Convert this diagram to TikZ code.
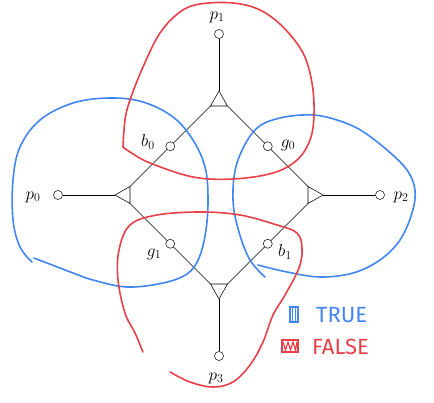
\documentclass[tikz,border=0pt]{standalone}
\usepackage{fontspec}
\newfontfamily\handfont{Fira Sans}
\definecolor{truecol}{RGB}{66,133,244}
\definecolor{falsecol}{RGB}{232,64,72}

\begin{document}
\begin{tikzpicture}[x=1pt, y=-1pt,
    port/.style={circle, draw, fill=white, inner sep=0pt, minimum size=9pt, line width=0.5pt},
    lbl/.style={font=\fontsize{18}{21}\selectfont, inner sep=0pt},
    wire/.style={line width=0.55pt},
    loopline/.style={line width=1.6pt, line cap=round, line join=round},
    legend/.style={font=\handfont\fontsize{22}{26}\selectfont, anchor=west, inner sep=0pt}]
    \useasboundingbox (0,0) rectangle (434,403);

    \coordinate (Ta) at (219,91);
    \coordinate (Tl) at (210.5,106);
    \coordinate (Tr) at (227.5,106);
    \coordinate (La) at (115,195);
    \coordinate (Lu) at (130,186.5);
    \coordinate (Ld) at (130,203.5);
    \coordinate (Ra) at (323,195);
    \coordinate (Ru) at (308,186.5);
    \coordinate (Rd) at (308,203.5);
    \coordinate (Ba) at (219,299);
    \coordinate (Bl) at (210.5,284);
    \coordinate (Br) at (227.5,284);

    \node[port] (p1) at (219,34) {};
    \node[port] (p0) at (58,195) {};
    \node[port] (p2) at (380,195) {};
    \node[port] (p3) at (219,356) {};
    \node[port] (b0) at (170.25,146.25) {};
    \node[port] (g0) at (267.75,146.25) {};
    \node[port] (g1) at (170.25,243.75) {};
    \node[port] (b1) at (267.75,243.75) {};

    \draw[wire] (Ta) -- (Tl) -- (Tr) -- cycle;
    \draw[wire] (La) -- (Lu) -- (Ld) -- cycle;
    \draw[wire] (Ra) -- (Ru) -- (Rd) -- cycle;
    \draw[wire] (Ba) -- (Bl) -- (Br) -- cycle;

    \draw[wire] (p1) -- (Ta);
    \draw[wire] (p0) -- (La);
    \draw[wire] (p2) -- (Ra);
    \draw[wire] (p3) -- (Ba);
    \draw[wire] (Tl) -- (b0);
    \draw[wire] (b0) -- (Lu);
    \draw[wire] (Tr) -- (g0);
    \draw[wire] (g0) -- (Ru);
    \draw[wire] (Ld) -- (g1);
    \draw[wire] (g1) -- (Bl);
    \draw[wire] (Rd) -- (b1);
    \draw[wire] (b1) -- (Br);

    \node[lbl] (lp1) at (217,17) {$p_1$};
    \node[lbl] (lp0) at (33,197) {$p_0$};
    \node[lbl] (lp2) at (401,197) {$p_2$};
    \node[lbl] (lp3) at (216,378) {$p_3$};
    \node[lbl] (lb0) at (148,142) {$b_0$};
    \node[lbl] (lg0) at (288,145) {$g_0$};
    \node[lbl] (lg1) at (154,254) {$g_1$};
    \node[lbl] (lb1) at (285,252) {$b_1$};

    % true
    \draw[loopline, truecol] plot[smooth, tension=0.6] coordinates {(32,262) (20,247) (13,220) (13,180) (20,147) (40,120) (73,103) (110,98) (143,102) (173,117) (193,140) (205,167) (208,197) (206,230) (199,258) (187,274) (163,283) (127,287) (93,280) (73,273) (34,258)};
    \draw[loopline, truecol] plot[smooth, tension=0.6] coordinates {(265,277) (250,260) (239,232) (233,200) (237,163) (255,130) (280,118) (313,115) (340,121) (362,131) (387,150) (407,170) (415,190) (412,213) (400,240) (380,260) (353,273) (320,277) (287,272) (258,265)};
    % false
    \draw[loopline, falsecol] plot[smooth, tension=0.6] coordinates {(123,147) (125,120) (130,100) (143,67) (160,33) (180,12) (200,4) (233,3) (260,10) (283,27) (303,53) (312,83) (314,115) (310,140) (297,160) (273,173) (233,179) (193,177) (150,163) (130,152) (123,147)};
    \draw[loopline, falsecol] plot[smooth, tension=0.6] coordinates {(143,352) (135,333) (125,313) (118,280) (119,250) (130,225) (157,215) (200,212) (240,215) (277,225) (297,233) (302,248) (299,268) (285,295) (273,315) (263,342) (250,365) (233,382) (213,387) (190,382) (170,372)};

    % legend
    \draw[truecol, line width=1.2pt] (290,307) rectangle (298,322);
    \draw[truecol, line width=1.2pt] (292.7,307) -- (292.7,322);
    \draw[truecol, line width=1.2pt] (295.3,307) -- (295.3,322);
    \draw[falsecol, line width=1.2pt] (282,340) rectangle (298,352);
    \draw[falsecol, line width=1.2pt] (283,342) -- (285.5,350) -- (288,342) -- (290.5,350) -- (293,342) -- (295.5,350) -- (297,342);
    \node[legend, text=truecol] (ltrue) at (316,315) {TRUE};
    \node[legend, text=falsecol] (lfalse) at (312,347) {FALSE};
\end{tikzpicture}
\end{document}
